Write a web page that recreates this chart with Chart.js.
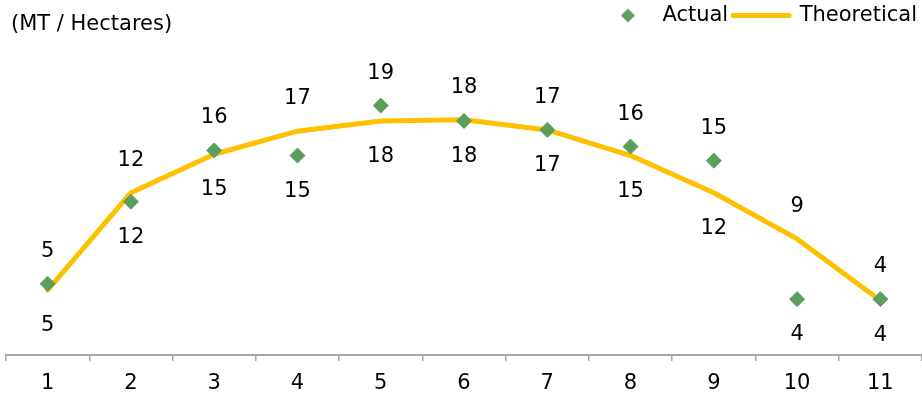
<!DOCTYPE html>
<html><head><meta charset="utf-8">
<script src="https://cdn.jsdelivr.net/npm/chart.js@4/dist/chart.umd.min.js"></script>
<style>html,body{margin:0;padding:0;background:#fff;overflow:hidden}canvas{display:block}</style>
</head><body>
<canvas id="c" width="922" height="394"></canvas>
<script>
const categories = ['1','2','3','4','5','6','7','8','9','10','11'];
const actual = [5.3, 11.7, 15.7, 15.3, 19.2, 18.0, 17.3, 16.0, 14.9, 4.1, 4.1];
const theoretical = [4.8, 12.4, 15.4, 17.2, 18.0, 18.1, 17.3, 15.3, 12.4, 8.8, 4.0];
const seriesNames = ['Actual', 'Theoretical'];
const unitLabel = '(MT / Hectares)';

const GREEN = '#5b9f5f', GOLD = '#ffc000';
const FONT = 'DejaVu Sans';
const FSIZE = 21;
Chart.defaults.font.family = FONT;
Chart.defaults.font.size = FSIZE;
Chart.defaults.color = '#000';

// legend marker: 14px diamond, drawn slightly right of the canvas centre
const dia = document.createElement('canvas');
dia.width = 24; dia.height = 16;
{ const g = dia.getContext('2d'); g.fillStyle = GREEN; g.beginPath(); g.moveTo(16,1); g.lineTo(23,8); g.lineTo(16,15); g.lineTo(9,8); g.closePath(); g.fill(); }

const valueLabels = {
  id: 'valueLabels',
  afterDatasetsDraw(chart) {
    const ctx = chart.ctx;
    const m0 = chart.getDatasetMeta(0), m1 = chart.getDatasetMeta(1);
    ctx.save();
    ctx.font = FSIZE + 'px "' + FONT + '"';
    ctx.fillStyle = '#000';
    ctx.textAlign = 'center';
    ctx.textBaseline = 'middle';
    categories.forEach((c, i) => {
      const aTop = actual[i] >= theoretical[i];
      const up = aTop ? m0.data[i] : m1.data[i];
      const dn = aTop ? m1.data[i] : m0.data[i];
      const upV = aTop ? actual[i] : theoretical[i];
      const dnV = aTop ? theoretical[i] : actual[i];
      ctx.fillText(String(Math.round(upV)), up.x, up.y - 32.5);
      ctx.fillText(String(Math.round(dnV)), dn.x, dn.y + 35.5);
    });
    ctx.restore();
  }
};

const unitPlugin = {
  id: 'unitPlugin',
  afterDraw(chart) {
    const ctx = chart.ctx;
    ctx.save();
    ctx.font = FSIZE + 'px "' + FONT + '"';
    ctx.fillStyle = '#000';
    ctx.textAlign = 'left';
    ctx.textBaseline = 'alphabetic';
    ctx.fillText(unitLabel, 11, 29.5);
    ctx.restore();
  }
};

new Chart(document.getElementById('c'), {
  type: 'line',
  data: {
    labels: categories,
    datasets: [
      { label: seriesNames[0], data: actual, showLine: false, pointStyle: 'rectRot',
        pointRadius: 7.5, pointHoverRadius: 7.5, pointBackgroundColor: GREEN, pointBorderColor: GREEN,
        pointBorderWidth: 1, borderColor: GREEN, backgroundColor: GREEN },
      { label: seriesNames[1], data: theoretical, borderColor: GOLD, backgroundColor: GOLD,
        borderWidth: 5, pointRadius: 0, pointHoverRadius: 0, tension: 0,
        borderCapStyle: 'round', borderJoinStyle: 'round', fill: false }
    ]
  },
  options: {
    responsive: false, animation: false, devicePixelRatio: 1,
    layout: { autoPadding: false, padding: { left: 6, right: 0, top: 0, bottom: 0 } },
    plugins: {
      legend: {
        position: 'top', align: 'end',
        labels: {
          usePointStyle: true, pointStyleWidth: 56, padding: 5,
          font: { size: FSIZE, family: FONT }, color: '#000',
          generateLabels(chart) {
            const items = Chart.defaults.plugins.legend.labels.generateLabels(chart);
            items[0].pointStyle = dia;
            items[1].pointStyle = 'line';
            items[1].lineWidth = 5;
            items[1].strokeStyle = GOLD;
            items[1].lineCap = 'round';
            return items;
          }
        }
      },
      tooltip: { enabled: false }
    },
    scales: {
      x: {
        offset: true,
        afterFit(scale) { scale.height = 39; },
        grid: { offset: true, drawOnChartArea: false, drawTicks: true, tickLength: 6, color: '#a6a6a6', lineWidth: 1.5 },
        border: { display: true, color: '#a6a6a6', width: 2 },
        ticks: { padding: 12, color: '#000', font: { size: FSIZE, family: FONT, lineHeight: 1.0 } }
      },
      y: { display: false, min: -0.257, max: 24.626 }
    }
  },
  plugins: [valueLabels, unitPlugin]
});
</script>
</body></html>
